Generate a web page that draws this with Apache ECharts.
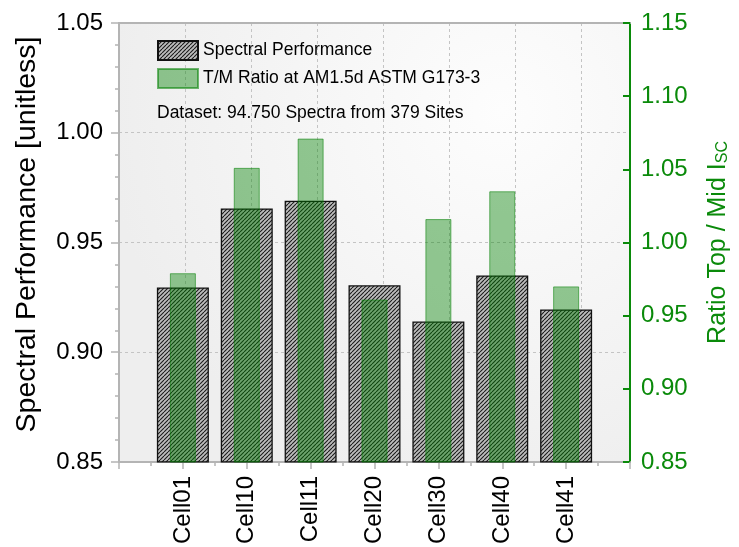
<!DOCTYPE html>
<html>
<head>
<meta charset="utf-8">
<script src="https://cdn.jsdelivr.net/npm/echarts@6/dist/echarts.min.js"></script>
<style>
  html, body { margin: 0; padding: 0; background: #fff; }
  #chart { width: 739px; height: 547px; }
</style>
</head>
<body>
<div id="chart"></div>
<script>
// Cell labels and measured values
const categories = ['Cell01', 'Cell10', 'Cell11', 'Cell20', 'Cell30', 'Cell40', 'Cell41'];
const spectralPerformance = [0.9295, 0.9655, 0.969, 0.9305, 0.914, 0.935, 0.9195];
const tmRatio = [0.979, 1.051, 1.071, 0.961, 1.016, 1.035, 0.970];

// Axis ranges
const leftRange = [0.85, 1.05];
const rightRange = [0.85, 1.15];
const tickStep = 0.05;

const FONT = '"Liberation Sans", Arial, sans-serif';

// Diagonal hatch pattern for the performance bars
function makeHatch() {
  const c = document.createElement('canvas');
  c.width = 4; c.height = 4;
  const g = c.getContext('2d');
  g.fillStyle = '#bdbdbd';
  g.fillRect(0, 0, 4, 4);
  g.strokeStyle = '#1a1a1a';
  g.lineWidth = 1.1;
  for (let x0 = -4; x0 <= 4; x0 += 4) {
    g.beginPath();
    g.moveTo(x0, 4);
    g.lineTo(x0 + 4, 0);
    g.stroke();
  }
  return c;
}
const hatch = makeHatch();

const chart = echarts.init(document.getElementById('chart'), null, { renderer: 'canvas' });

const gray = '#b4b4b4';
const green = '#0a8a0a';

chart.setOption({
  animation: false,
  textStyle: { fontFamily: FONT },
  title: {
    text: 'Dataset: 94.750 Spectra from 379 Sites',
    left: 157, top: 104, padding: 0,
    textStyle: { fontSize: 17.5, fontWeight: 'normal', color: '#000', fontFamily: FONT }
  },
  legend: {
    orient: 'vertical',
    left: 157, top: 40, padding: 0,
    itemWidth: 40, itemHeight: 19, itemGap: 7,
    icon: 'rect',
    textStyle: { fontSize: 17.5, color: '#000', fontFamily: FONT },
    data: ['Spectral Performance', 'T/M Ratio at AM1.5d ASTM G173-3']
  },
  grid: {
    left: 119, right: 107, top: 23, bottom: 84,
    show: true, borderWidth: 0,
    backgroundColor: {
      type: 'radial', x: 0.75, y: 0.2, r: 0.9,
      colorStops: [{ offset: 0, color: '#fdfdfd' }, { offset: 1, color: '#eeeeee' }]
    }
  },
  xAxis: [
    {
      type: 'value', min: 0, max: categories.length + 1, interval: 1, position: 'bottom',
      axisLine: { onZero: false, lineStyle: { color: gray, width: 2 } },
      axisTick: { length: 7, lineStyle: { color: gray, width: 1.5 } },
      minorTick: { show: true, splitNumber: 2, length: 4, lineStyle: { color: gray, width: 1.5 } },
      splitLine: { show: false },
      axisLabel: {
        rotate: 90, margin: 14, fontSize: 24, color: '#000', fontFamily: FONT,
        formatter: v => categories[v - 1] || ''
      }
    },
    {
      type: 'value', min: 0, max: categories.length + 1, show: false
    },
    {
      type: 'value', min: 0, max: 7.74, interval: 1, position: 'bottom',
      axisLine: { show: false, onZero: false }, axisTick: { show: false }, axisLabel: { show: false },
      splitLine: { show: true, lineStyle: { color: '#c4c4c4', type: [3, 3], width: 1 } }
    },
    {
      type: 'value', min: 0, max: 1, position: 'top',
      axisLine: { show: true, onZero: false, lineStyle: { color: gray, width: 2 } },
      axisTick: { show: false }, axisLabel: { show: false }, splitLine: { show: false }
    }
  ],
  yAxis: [
    {
      type: 'value', min: leftRange[0], max: leftRange[1], interval: tickStep, position: 'left',
      name: 'Spectral Performance [unitless]', nameLocation: 'middle', nameGap: 77,
      nameTextStyle: { fontSize: 28.5, color: '#000', fontFamily: FONT, padding: [0, 0, 0, 16] },
      axisLine: { show: true, onZero: false, lineStyle: { color: gray, width: 2 } },
      axisTick: { length: 8, lineStyle: { color: gray, width: 1.5 } },
      minorTick: { show: true, splitNumber: 5, length: 4, lineStyle: { color: gray, width: 1.5 } },
      splitLine: { show: true, lineStyle: { color: '#c4c4c4', type: [3, 3], width: 1 } },
      axisLabel: { fontSize: 24, color: '#000', margin: 16, fontFamily: FONT, formatter: v => v.toFixed(2) }
    },
    {
      type: 'value', min: rightRange[0], max: rightRange[1], interval: tickStep, position: 'right',
      name: '{n|Ratio Top / Mid I}{s|SC}', nameLocation: 'middle', nameGap: 75, nameRotate: 90,
      nameTextStyle: {
        color: green, fontFamily: FONT,
        rich: {
          n: { fontSize: 25, color: green, fontFamily: FONT },
          s: { fontSize: 16, color: green, fontFamily: FONT, verticalAlign: 'bottom', padding: [10, 0, 0, 0] }
        }
      },
      axisLine: { show: true, onZero: false, lineStyle: { color: green, width: 2 } },
      axisTick: { inside: true, length: 7, lineStyle: { color: green, width: 2 } },
      splitLine: { show: false },
      axisLabel: { fontSize: 24, color: green, margin: 11, fontFamily: FONT, formatter: v => v.toFixed(2) }
    }
  ],
  series: [
    {
      name: 'Spectral Performance',
      type: 'bar', xAxisIndex: 0, yAxisIndex: 0,
      barWidth: 52,
      itemStyle: { color: { image: hatch, repeat: 'repeat' }, borderColor: '#111', borderWidth: 1.3 },
      data: categories.map((c, i) => [i + 1, spectralPerformance[i]])
    },
    {
      name: 'T/M Ratio at AM1.5d ASTM G173-3',
      type: 'bar', xAxisIndex: 1, yAxisIndex: 1,
      barWidth: 26,
      itemStyle: { color: 'rgba(0,128,0,0.42)', borderColor: 'rgba(0,128,0,0.55)', borderWidth: 1 },
      data: categories.map((c, i) => [i + 1, tmRatio[i]])
    }
  ]
});
</script>
</body>
</html>
